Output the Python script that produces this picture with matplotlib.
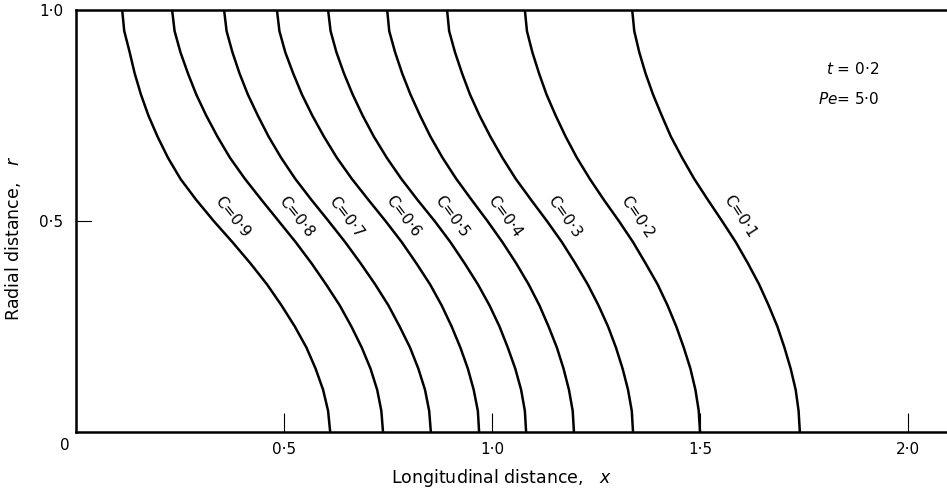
import matplotlib
matplotlib.use("Agg")
import matplotlib.pyplot as plt

r_levels = [1.00, 0.95, 0.90, 0.85, 0.80, 0.75, 0.70, 0.65, 0.60, 0.55, 0.50,
            0.45, 0.40, 0.35, 0.30, 0.25, 0.20, 0.15, 0.10, 0.05, 0.00]

# x position of each concentration contour at the r levels above
c_09 = [0.111, 0.116, 0.129, 0.141, 0.156, 0.174, 0.196, 0.221, 0.251, 0.289, 0.331,
        0.376, 0.419, 0.459, 0.494, 0.526, 0.554, 0.576, 0.594, 0.606, 0.611]
c_08 = [0.231, 0.237, 0.251, 0.269, 0.289, 0.313, 0.340, 0.370, 0.406, 0.446, 0.487,
        0.528, 0.566, 0.601, 0.634, 0.662, 0.687, 0.708, 0.724, 0.734, 0.738]
c_07 = [0.356, 0.362, 0.376, 0.393, 0.413, 0.437, 0.463, 0.493, 0.527, 0.566, 0.607,
        0.647, 0.684, 0.719, 0.751, 0.778, 0.803, 0.823, 0.839, 0.849, 0.853]
c_06 = [0.483, 0.489, 0.503, 0.522, 0.543, 0.568, 0.596, 0.627, 0.663, 0.703, 0.744,
        0.783, 0.818, 0.851, 0.879, 0.903, 0.924, 0.942, 0.956, 0.966, 0.969]
c_05 = [0.606, 0.612, 0.626, 0.644, 0.665, 0.689, 0.716, 0.747, 0.782, 0.821, 0.862,
        0.900, 0.934, 0.966, 0.994, 1.018, 1.038, 1.056, 1.070, 1.079, 1.082]
c_04 = [0.748, 0.753, 0.767, 0.784, 0.804, 0.827, 0.852, 0.881, 0.914, 0.951, 0.989,
        1.025, 1.058, 1.088, 1.114, 1.136, 1.156, 1.172, 1.185, 1.194, 1.197]
c_03 = [0.892, 0.897, 0.911, 0.928, 0.947, 0.970, 0.996, 1.025, 1.057, 1.094, 1.132,
        1.168, 1.200, 1.230, 1.256, 1.279, 1.298, 1.314, 1.327, 1.336, 1.339]
c_02 = [1.079, 1.084, 1.097, 1.113, 1.131, 1.153, 1.177, 1.204, 1.235, 1.269, 1.305,
        1.339, 1.369, 1.398, 1.422, 1.443, 1.461, 1.477, 1.489, 1.497, 1.500]
c_01 = [1.337, 1.342, 1.354, 1.369, 1.387, 1.408, 1.430, 1.457, 1.486, 1.519, 1.553,
        1.586, 1.615, 1.642, 1.665, 1.686, 1.703, 1.718, 1.730, 1.737, 1.740]

contours = [c_09, c_08, c_07, c_06, c_05, c_04, c_03, c_02, c_01]
labels = ["C=0·9", "C=0·8", "C=0·7", "C=0·6", "C=0·5", "C=0·4", "C=0·3", "C=0·2", "C=0·1"]
# where each label sits (x, r)
label_x = [0.375, 0.530, 0.650, 0.786, 0.904, 1.031, 1.175, 1.348, 1.596]
label_r = [0.51, 0.51, 0.51, 0.51, 0.51, 0.51, 0.51, 0.51, 0.51]
label_rot = [-52, -52, -53, -53, -54, -54, -55, -56, -57]

xticks = [0.5, 1.0, 1.5, 2.0]
xticklabels = ["0·5", "1·0", "1·5", "2·0"]
yticks = [0.5, 1.0]
yticklabels = ["0·5", "1·0"]

plt.rcParams['font.family'] = ['DejaVu Sans']

fig = plt.figure(figsize=(9.47, 4.95), dpi=100)
ax = fig.add_axes([76/947, 1-432/495, 1-76/947, (432-10)/495])

for xs, lab, lx, lr, rot in zip(contours, labels, label_x, label_r, label_rot):
   ax.plot(xs, r_levels, color='black', lw=1.8, solid_joinstyle='round', solid_capstyle='butt')
   ax.text(lx, lr, lab, rotation=rot, ha='center', va='center', fontsize=11,
           rotation_mode='anchor')

ax.set_xlim(0, (947-76)/416)
ax.set_ylim(0, 1.0)

ax.spines['right'].set_visible(False)
for s in ['left', 'bottom', 'top']:
   ax.spines[s].set_linewidth(1.8)

ax.set_xticks(xticks)
ax.set_xticklabels(xticklabels, fontsize=11)
ax.set_yticks(yticks)
ax.set_yticklabels(yticklabels, fontsize=11)
ax.tick_params(direction='in', length=14, width=0.8, pad=7)
ax.tick_params(axis='y', length=0, pad=9)
# only the 0.5 tick mark on the radial axis is drawn
ax.plot([0, 0.036], [0.5, 0.5], color='black', lw=0.8, clip_on=False)

# shared origin label
ax.text(-0.027, -0.031, "0", fontsize=11, ha='center', va='center')

fig.text(502/947, 1-478/495, "Longitudinal distance,   $x$", fontsize=12.5,
         ha='center', va='center')
fig.text(13/947, 1-238/495, "Radial distance,   $r$", fontsize=12.5,
         ha='center', va='center', rotation=90)

ax.text(1.93, 0.86, "$t$ = 0·2", fontsize=11, ha='right', va='center')
ax.text(1.93, 0.79, "$Pe$= 5·0", fontsize=11, ha='right', va='center')

fig.savefig("out.png", dpi=100)
